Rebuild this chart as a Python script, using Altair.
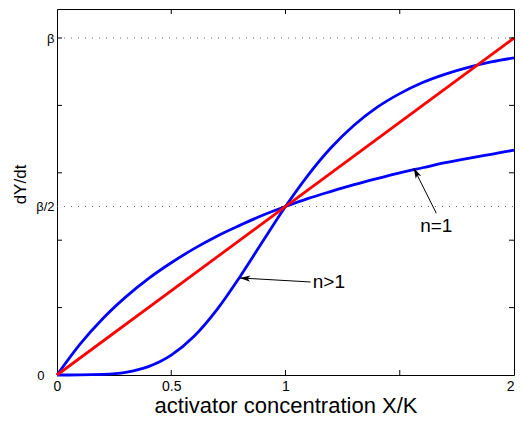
import altair as alt
import pandas as pd

# ---- data ----
x_vals = [0.0, 0.1, 0.2, 0.3, 0.4, 0.5, 0.6, 0.7, 0.8, 0.9, 1.0,
          1.1, 1.2, 1.3, 1.4, 1.5, 1.6, 1.7, 1.8, 1.9, 2.0]
curve_n1 = [0.0, 0.091, 0.167, 0.231, 0.286, 0.333, 0.375, 0.412, 0.444, 0.474, 0.5,
            0.524, 0.545, 0.565, 0.583, 0.600, 0.615, 0.630, 0.643, 0.655, 0.667]
curve_nbig = [0.0, 0.0001, 0.0016, 0.008, 0.025, 0.059, 0.115, 0.194, 0.291, 0.396, 0.5,
              0.594, 0.675, 0.741, 0.794, 0.835, 0.868, 0.893, 0.913, 0.929, 0.941]
linear_x = [0.0, 2.0]
linear_y = [0.0, 1.0]

x_tick_vals = [0.5, 1.0, 1.5]
y_tick_vals = [0.2, 0.4, 0.6, 0.8, 1.0]
x_label_vals = [0, 0.5, 1, 2]
y_label_vals = [0, 0.5, 1]
ref_levels = [0.5, 1.0]

ann_text = ["n=1", "n>1"]
ann_head_x = [1.561, 0.800]
ann_head_y = [0.614, 0.288]
ann_tail_x = [1.660, 1.110]
ann_tail_y = [0.480, 0.276]
ann_text_x = [1.66, 1.19]
ann_text_y = [0.442, 0.276]
ann_angle = [332.6, 273.4]

# ---- layout ----
W, H = 457, 366
FONT = "Liberation Sans"

curves = pd.concat([
    pd.DataFrame({"x": x_vals, "y": curve_n1, "series": "n1"}),
    pd.DataFrame({"x": x_vals, "y": curve_nbig, "series": "nbig"}),
    pd.DataFrame({"x": linear_x, "y": linear_y, "series": "linear"}),
])
ref_df = pd.DataFrame({"y": ref_levels})
xt_df = pd.DataFrame({"x": x_tick_vals})
yt_df = pd.DataFrame({"y": y_tick_vals})
ann_df = pd.DataFrame({
    "x": ann_head_x, "y": ann_head_y, "label": ann_text,
    "tx": ann_tail_x, "ty": ann_tail_y, "angle": ann_angle,
})
lab_df = pd.DataFrame({"x": ann_text_x, "y": ann_text_y, "label": ann_text})

xscale = alt.Scale(domain=[0, 2], nice=False, zero=False)
yscale = alt.Scale(domain=[0, 366 / 337], nice=False, zero=False)

xaxis = alt.Axis(
    values=x_label_vals, format="~g", title="activator concentration X/K", ticks=False,
    domain=False, grid=False, labelFlush=False, labelOverlap=False, labelPadding=4,
    labelAlign={"condition": {"test": "datum.value === 2", "value": "right"}, "value": "center"},
    labelFontSize=14, labelFont=FONT, labelColor="black", titleFont=FONT, titleFontSize=22,
    titleFontWeight="normal", titleColor="black", titleY=37, titleBaseline="alphabetic",
)
yaxis = alt.Axis(
    values=y_label_vals, title="dY/dt", ticks=False, domain=False, grid=False,
    labelOverlap=False, labelFlush=False,
    labelExpr="datum.value == 0 ? '0' : (datum.value == 0.5 ? 'β/2' : 'β')",
    labelPadding={"condition": {"test": "datum.value === 0", "value": 13}, "value": 3},
    labelFontSize=13, labelFont=FONT, labelColor="black",
    titleFont=FONT, titleFontSize=17, titleFontWeight="normal", titleColor="black",
    titleX=-32, titleY=175, titleBaseline="alphabetic", titleAlign="center",
)

X = alt.X("x:Q", scale=xscale, axis=xaxis)
Y = alt.Y("y:Q", scale=yscale, axis=yaxis)

refs = alt.Chart(ref_df).mark_rule(color="#666666", strokeWidth=1, strokeDash=[1, 6]).encode(
    y=Y, x=alt.value(0), x2=alt.value(W)
)

lines = alt.Chart(curves).mark_line(strokeWidth=2.8, interpolate="monotone").encode(
    x=X, y=Y,
    color=alt.Color("series:N", scale=alt.Scale(domain=["n1", "nbig", "linear"],
                                                range=["#0000ff", "#0000ff", "#ff0000"]),
                    legend=None),
    order=alt.Order("x:Q"),
)

tick_b = alt.Chart(xt_df).mark_rule(color="black").encode(
    x=X, y=alt.value(H), y2=alt.value(H - 5))
tick_t = alt.Chart(xt_df).mark_rule(color="black").encode(
    x=X, y=alt.value(0), y2=alt.value(5))
tick_l = alt.Chart(yt_df).mark_rule(color="black").encode(
    y=Y, x=alt.value(0), x2=alt.value(5))
tick_r = alt.Chart(yt_df).mark_rule(color="black").encode(
    y=Y, x=alt.value(W), x2=alt.value(W - 5))

arrows = alt.Chart(ann_df).mark_rule(color="black", strokeWidth=1).encode(
    x=X, y=Y, x2="tx:Q", y2="ty:Q")
heads = alt.Chart(ann_df).mark_point(
    shape="M0,0 L-0.6,2 L0,1.5 L0.6,2 Z", filled=True, size=110, color="black", opacity=1
).encode(x=X, y=Y, angle=alt.Angle("angle:Q", scale=None))
labels = alt.Chart(lab_df).mark_text(font=FONT, fontSize=19, color="black",
                                     align="center", baseline="middle").encode(
    x=X, y=Y, text="label:N")

chart = alt.layer(
    refs, lines, tick_b, tick_t, tick_l, tick_r, arrows, heads, labels
).properties(
    width=W, height=H,
    autosize=alt.AutoSizeParams(type="none"),
    padding={"left": 49, "top": 1, "right": 1, "bottom": 41},
    background="white",
).configure_view(stroke="black", strokeWidth=1)

chart.save("out.html", embed_options={"renderer": "svg", "actions": False})
